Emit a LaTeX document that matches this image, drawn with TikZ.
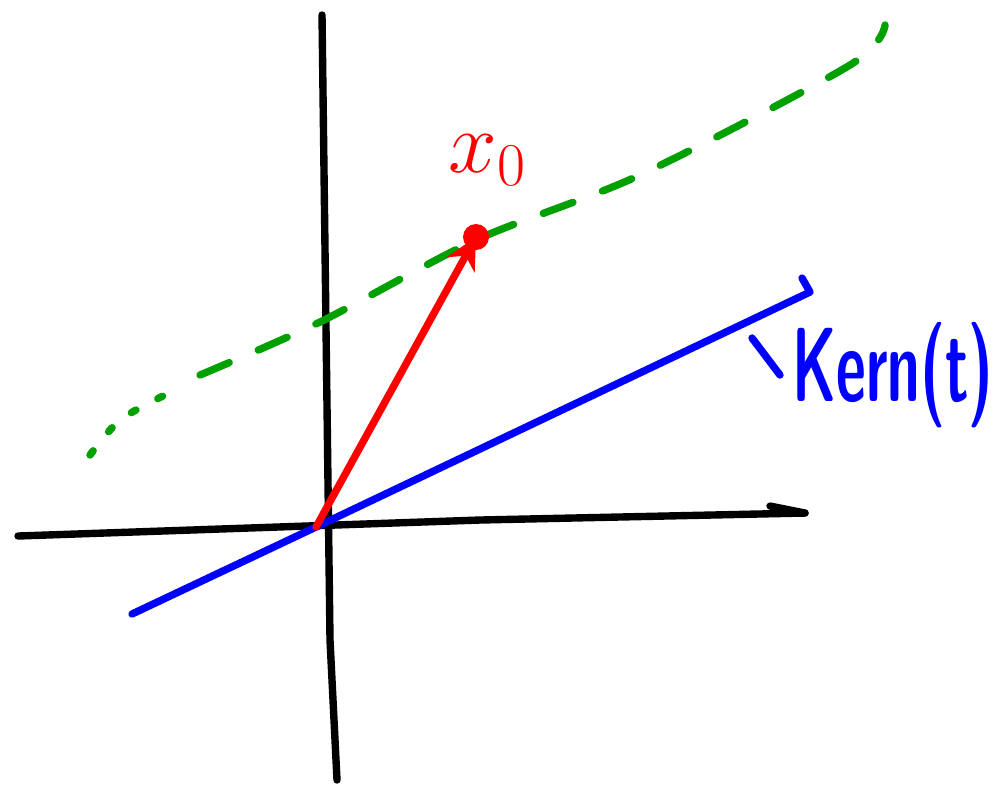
\documentclass[tikz,border=0pt]{standalone}
\usepackage{amsmath}
\usetikzlibrary{arrows.meta}
\definecolor{pengreen}{RGB}{0,160,0}

\begin{document}
\begin{tikzpicture}[x=0.01cm,y=-0.01cm,
	ink/.style={line width=2.1pt,line cap=round,line join=round}]
	\useasboundingbox (0,0) rectangle (1001,787);
	\coordinate(O) at (316,527);
	\coordinate(Ytop) at (322,15);
	\coordinate(Ybot) at (337,780);
	\coordinate(Xleft) at (18,536);
	\coordinate(Xright) at (805,513);
	\coordinate(Kbot) at (132,614);
	\coordinate(Ktop) at (810,292);
	\coordinate(X0) at (476,237);
	
	% axes
	\draw[ink,black] (Ybot)--(330,640)--(Ytop);
	\draw[ink,black] (Xleft)--(480,520)--(Xright);
	\draw[ink,black] (770,506)--(Xright);
	
	% kernel
	\draw[ink,blue] (Kbot)--(O)--(Ktop)--(802,278);
	\node(Ker) at (893,375){\scalebox{0.55}[1]{\fontsize{30}{32}\selectfont\sffamily\bfseries\color{blue}Kern(t)}};
	\draw[ink,blue] (752,338)--(Ker.west);
	
	% affine line
	\draw[ink,pengreen,dash pattern=on 1.5pt off 7pt]
		plot[smooth] coordinates {(90,455) (120,420) (165,395)};
	\draw[ink,pengreen,dash pattern=on 9pt off 9pt]
		plot[smooth] coordinates {(200,375) (320,322) (476,240) (640,175) (850,65) (885,25)};
	
	% x0
	\draw[ink,red,-{Stealth[length=9pt,width=9pt]}] (O)--(X0);
	\fill[red] (X0) circle (13);
	\node(x0) at (488,160){\fontsize{32}{34}\selectfont\color{red}$x_{\scriptscriptstyle 0}$};
\end{tikzpicture}
\end{document}
